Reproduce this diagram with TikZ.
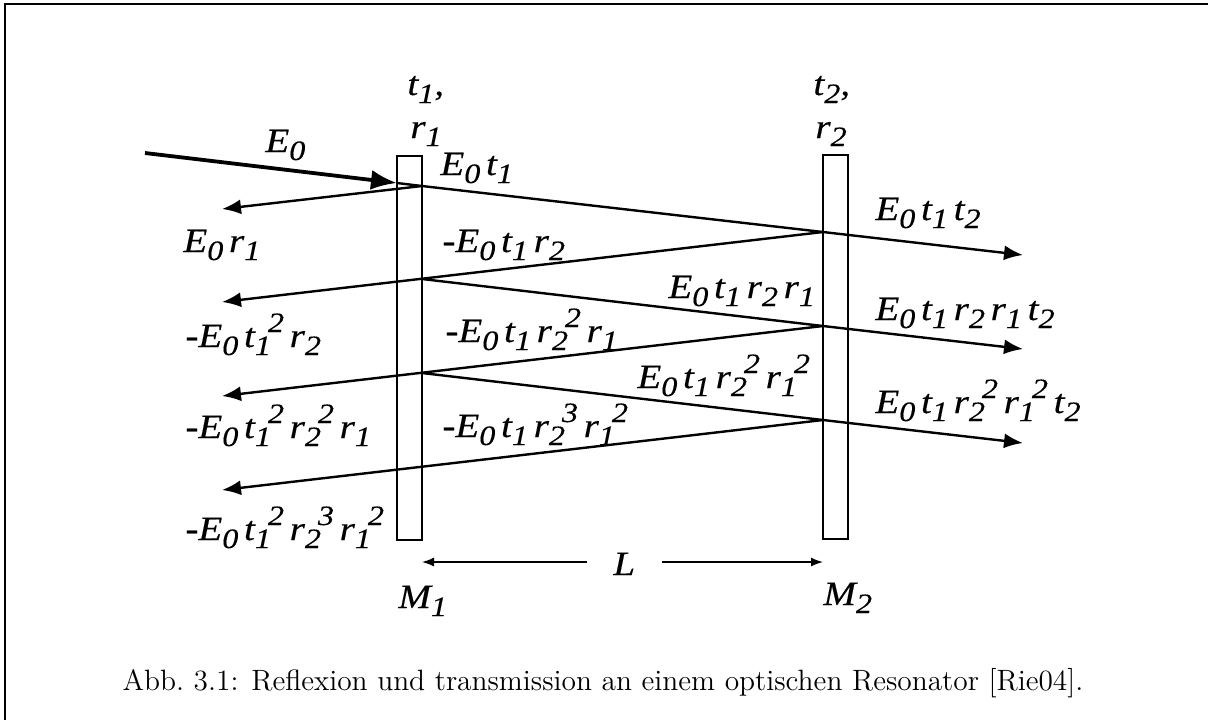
\documentclass[tikz,border=0pt]{standalone}
\usepackage{fontspec}
\usetikzlibrary{arrows.meta}
\newfontfamily\lblfont[FakeStretch=1.15,FakeBold=0.3]{Liberation Serif Italic}
\newcommand{\scrpt}{\fontsize{14}{14}\selectfont}
\newcommand{\dnix}[1]{\raisebox{-4pt}{\scrpt#1}}
\newcommand{\bothix}[2]{\rlap{\raisebox{-4pt}{\scrpt#1}}\hspace{6.5pt}\raisebox{7.5pt}{\scrpt#2}}

\begin{document}
\begin{tikzpicture}[x=0.5pt,y=-0.5pt,
    rayo/.style={line width=1.2pt},
    haz/.style={line width=1.9pt},
    espejo/.style={draw,line width=1.4pt,minimum width=12.5pt,minimum height=192pt,inner sep=0pt},
    flecha/.style={-{Latex[length=9.5pt,width=7.5pt]}},
    cota/.style={line width=0.7pt,-{Latex[length=6pt,width=4.5pt]}},
    etiq/.style={font=\lblfont\fontsize{17}{20}\selectfont,inner sep=0pt,anchor=base west}]
  \useasboundingbox (0,0) rectangle (1208,720);
  % Marco
  \draw[line width=1pt] (5,720) -- (5,3.5) -- (1208,3.5);

  % Espejos
  \node[espejo] (M1) at (409.5,348) {};
  \node[espejo] (M2) at (835.5,347) {};

  % Puntos de los rayos
  \coordinate (fuente) at (145,153);
  \coordinate (h0) at (397,183);
  \coordinate (p0) at (422,186);
  \coordinate (p1) at (422,279);
  \coordinate (p2) at (422,373);
  \coordinate (q1) at (823,232);
  \coordinate (q2) at (823,326);
  \coordinate (q3) at (823,420);
  \coordinate (r0) at (222,209);
  \coordinate (r1) at (222,302);
  \coordinate (r2) at (222,396);
  \coordinate (r3) at (222,490);
  \coordinate (s1) at (1023,255);
  \coordinate (s2) at (1023,349);
  \coordinate (s3) at (1023,443);

  % Haz incidente
  \draw[haz,-{Latex[length=13pt,width=10pt]}] (fuente) -- (h0);
  \draw[rayo] (h0) -- (p0);
  \draw[rayo,flecha] (p0) -- (r0);

  % Rayos dentro del resonador
  \draw[rayo] (p0) -- (q1);
  \draw[rayo,flecha] (q1) -- (s1);
  \draw[rayo,flecha] (q1) -- (r1);
  \draw[rayo] (p1) -- (q2);
  \draw[rayo,flecha] (q2) -- (s2);
  \draw[rayo,flecha] (q2) -- (r2);
  \draw[rayo] (p2) -- (q3);
  \draw[rayo,flecha] (q3) -- (s3);
  \draw[rayo,flecha] (q3) -- (r3);

  % Etiquetas de los espejos
  \node[etiq] (t1) at (407,95) {t\dnix{1},};
  \node[etiq] (rr1) at (410,138) {r\dnix{1}};
  \node[etiq] (t2) at (813,95) {t\dnix{2},};
  \node[etiq] (rr2) at (815,138) {r\dnix{2}};
  \node[etiq] (m1) at (398,608) {M\dnix{1}};
  \node[etiq] (m2) at (823,605) {M\dnix{2}};

  % Etiquetas de los rayos
  \node[etiq] (e0) at (265,152) {E\dnix{0}};
  \node[etiq] (e1) at (440,175) {E\dnix{0}\,t\dnix{1}};
  \node[etiq] (e2) at (183,252) {E\dnix{0}\,r\dnix{1}};
  \node[etiq] (e3) at (442,252) {-E\dnix{0}\,t\dnix{1}\,r\dnix{2}};
  \node[etiq] (e4) at (185,347) {-E\dnix{0}\,t\bothix{1}{2}\,r\dnix{2}};
  \node[etiq] (e5) at (445,342) {-E\dnix{0}\,t\dnix{1}\,r\bothix{2}{2}\,r\dnix{1}};
  \node[etiq] (e6) at (185,438) {-E\dnix{0}\,t\bothix{1}{2}\,r\bothix{2}{2}\,r\dnix{1}};
  \node[etiq] (e7) at (442,437) {-E\dnix{0}\,t\dnix{1}\,r\bothix{2}{3}\,r\bothix{1}{2}};
  \node[etiq] (e8) at (185,540) {-E\dnix{0}\,t\bothix{1}{2}\,r\bothix{2}{3}\,r\bothix{1}{2}};
  \node[etiq] (e9) at (875,220) {E\dnix{0}\,t\dnix{1}\,t\dnix{2}};
  \node[etiq] (e10) at (668,298) {E\dnix{0}\,t\dnix{1}\,r\dnix{2}\,r\dnix{1}};
  \node[etiq] (e11) at (875,320) {E\dnix{0}\,t\dnix{1}\,r\dnix{2}\,r\dnix{1}\,t\dnix{2}};
  \node[etiq] (e12) at (637,388) {E\dnix{0}\,t\dnix{1}\,r\bothix{2}{2}\,r\bothix{1}{2}};
  \node[etiq] (e13) at (875,413) {E\dnix{0}\,t\dnix{1}\,r\bothix{2}{2}\,r\bothix{1}{2}\,t\dnix{2}};

  % Distancia L
  \node[etiq] (L) at (613,575) {L};
  \coordinate (La) at (587,562);
  \coordinate (Lb) at (662,562);
  \coordinate (L1) at (422,562);
  \coordinate (L2) at (823,562);
  \draw[cota] (La) -- (L1);
  \draw[cota] (Lb) -- (L2);

  % Pie de figura
  \node[font=\fontsize{14.7}{17}\selectfont,inner sep=0pt] (pie) at (603,683)
    {Abb.~3.1: Reflexion und transmission an einem optischen Resonator [Rie04].};
\end{tikzpicture}
\end{document}
